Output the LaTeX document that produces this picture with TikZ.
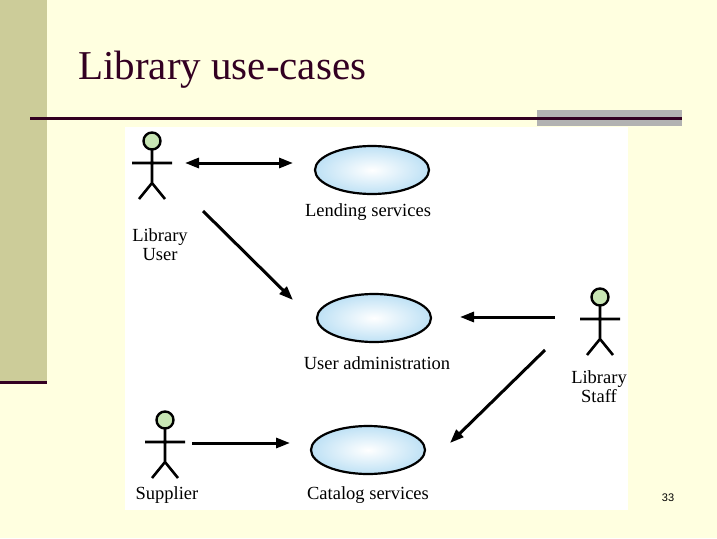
\documentclass[tikz,border=0pt]{standalone}
\usepackage{fontspec}
\setmainfont{Liberation Serif}
\newfontfamily\pagefont{Liberation Sans}
\usetikzlibrary{positioning,arrows.meta,shapes.geometric}

\definecolor{slidebg}{RGB}{255,255,224}
\definecolor{bandcol}{RGB}{204,204,153}
\definecolor{rulecol}{RGB}{51,0,34}
\definecolor{headcol}{RGB}{200,230,180}
\definecolor{casecol}{RGB}{190,225,245}

\tikzset{
  usecase/.style={ellipse,draw,line width=2.2pt,minimum width=114pt,minimum height=48pt,inner color=white,outer color=casecol},
  caselabel/.style={inner sep=0.75pt,font=\fontsize{18.5}{19}\selectfont,align=center},
  assoc/.style={line width=3pt,-{Triangle[length=14pt,width=10pt]}},
}

% stick figure for an actor
\newcommand{\actorfig}[2]{%
  \draw [line width=2.4pt,fill=headcol] (#1,#2) circle [radius=8.5];
  \draw [line width=2.6pt] (#1,#2+8.5) -- (#1,#2+42) (#1-20,#2+22) -- (#1+20,#2+22)
        (#1-13,#2+58) -- (#1,#2+42) -- (#1+13,#2+58);
}

\begin{document}
\begin{tikzpicture}[x=1pt,y=1pt,yscale=-1]

\fill [slidebg] (0,0) rectangle (717,538);
\useasboundingbox (0,0) rectangle (717,538);
\fill [bandcol] (0,0) rectangle (47,383);
\draw [rulecol,line width=3pt] (0,382) -- (47,382);
\fill [gray!60] (537,110) rectangle (682,126);
\draw [rulecol,line width=3pt] (30,118) -- (682,118);

% Title
\node (title) [anchor=west,inner sep=0pt,font=\fontsize{41}{46}\selectfont,text=rulecol] at (78,70) {Library use-cases};

% panel
\fill [white] (125,127) rectangle (628,510);

% actors
\actorfig{152}{141}
\actorfig{600}{297}
\actorfig{165}{420}
\node (userlbl) [caselabel] at (160,245) {Library\\User};
\node (stafflbl) [caselabel] at (599,387) {Library\\Staff};
\node (supplierlbl) [caselabel] at (167,495) {Supplier};

% use cases
\node (lending) [usecase] at (372,170) {};
\node (admin) [usecase] at (374,318) {};
\node (catalog) [usecase] at (368,450) {};
\node (lendinglbl) [caselabel] at (368,212) {Lending services};
\node (adminlbl) [caselabel] at (377,363) {User administration};
\node (cataloglbl) [caselabel] at (368,495) {Catalog services};

% associations
\coordinate (ua) at (185,163);
\coordinate (ub) at (293,163);
\coordinate (uc) at (203,211);
\coordinate (ud) at (293,300);
\coordinate (sa) at (555,317);
\coordinate (sb) at (460,317);
\coordinate (sc) at (545,350);
\coordinate (sd) at (450,443);
\coordinate (pa) at (192,443);
\coordinate (pb) at (290,443);
\draw [assoc,{Triangle[length=14pt,width=10pt]}-{Triangle[length=14pt,width=10pt]}] (ua) -- (ub);
\draw [assoc] (uc) -- (ud);
\draw [assoc] (sa) -- (sb);
\draw [assoc] (sc) -- (sd);
\draw [assoc] (pa) -- (pb);

% page number
\node (pagenum) [font=\pagefont\fontsize{11}{12}\selectfont] at (668,498) {33};

\end{tikzpicture}
\end{document}
